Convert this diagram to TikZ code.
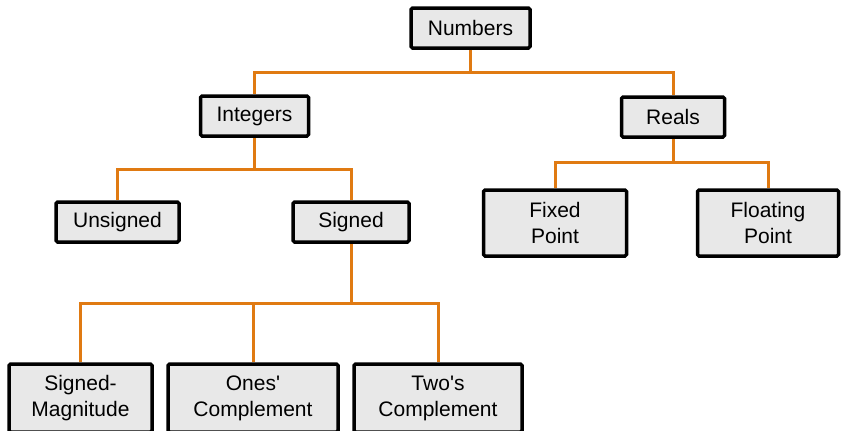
\documentclass[tikz,border=0pt]{standalone}
\usepackage{fontspec}
\setmainfont{Liberation Sans}
\definecolor{boxfill}{HTML}{E8E8E8}
\definecolor{linkorange}{HTML}{E07A12}
\begin{document}
\begin{tikzpicture}[x=1pt,y=-1pt,
  box/.style={draw=black, line width=3.5pt, fill=boxfill, rounded corners=1.5pt,
    inner sep=0pt, align=center, font=\fontsize{21}{26}\selectfont},
  link/.style={draw=linkorange, line width=3pt}]
\useasboundingbox (0,0) rectangle (841,431);
\begin{scope}
\clip (0,0) rectangle (841,431);
\node[box, minimum width=119pt, minimum height=40pt] (num) at (470.5,28) {Numbers};
\node[box, minimum width=108pt, minimum height=40pt] (int) at (254.5,116) {Integers};
\node[box, minimum width=103pt, minimum height=40pt] (real) at (673,117) {Reals};
\node[box, minimum width=123pt, minimum height=40pt] (uns) at (117.5,222) {Unsigned};
\node[box, minimum width=116pt, minimum height=40pt] (sgn) at (351,222) {Signed};
\node[box, minimum width=143pt, minimum height=66pt] (fix) at (555,223) {Fixed\\Point};
\node[box, minimum width=141pt, minimum height=66pt] (flt) at (768,223) {Floating\\Point};
\node[box, minimum width=143pt, minimum height=68pt] (sm) at (80.5,398) {Signed-\\Magnitude};
\node[box, minimum width=170pt, minimum height=68pt] (ones) at (253,398) {Ones\textquotesingle\\Complement};
\node[box, minimum width=168pt, minimum height=68pt] (twos) at (438,398) {Two\textquotesingle s\\Complement};

\coordinate (b1) at (470.5,72);
\coordinate (b2) at (254.5,169);
\coordinate (b3) at (673,162);
\coordinate (b4) at (351,303);

\draw[link] (num.south) -- (b1);
\draw[link] (int.north) |- (b1) -| (real.north);
\draw[link] (int.south) -- (b2);
\draw[link] (uns.north) |- (b2) -| (sgn.north);
\draw[link] (real.south) -- (b3);
\draw[link] (fix.north) |- (b3) -| (flt.north);
\draw[link] (sgn.south) -- (b4);
\draw[link] (sm.north) |- (b4) -| (twos.north);
\draw[link] (ones.north) -- (ones.north |- b4);
\end{scope}
\end{tikzpicture}
\end{document}
